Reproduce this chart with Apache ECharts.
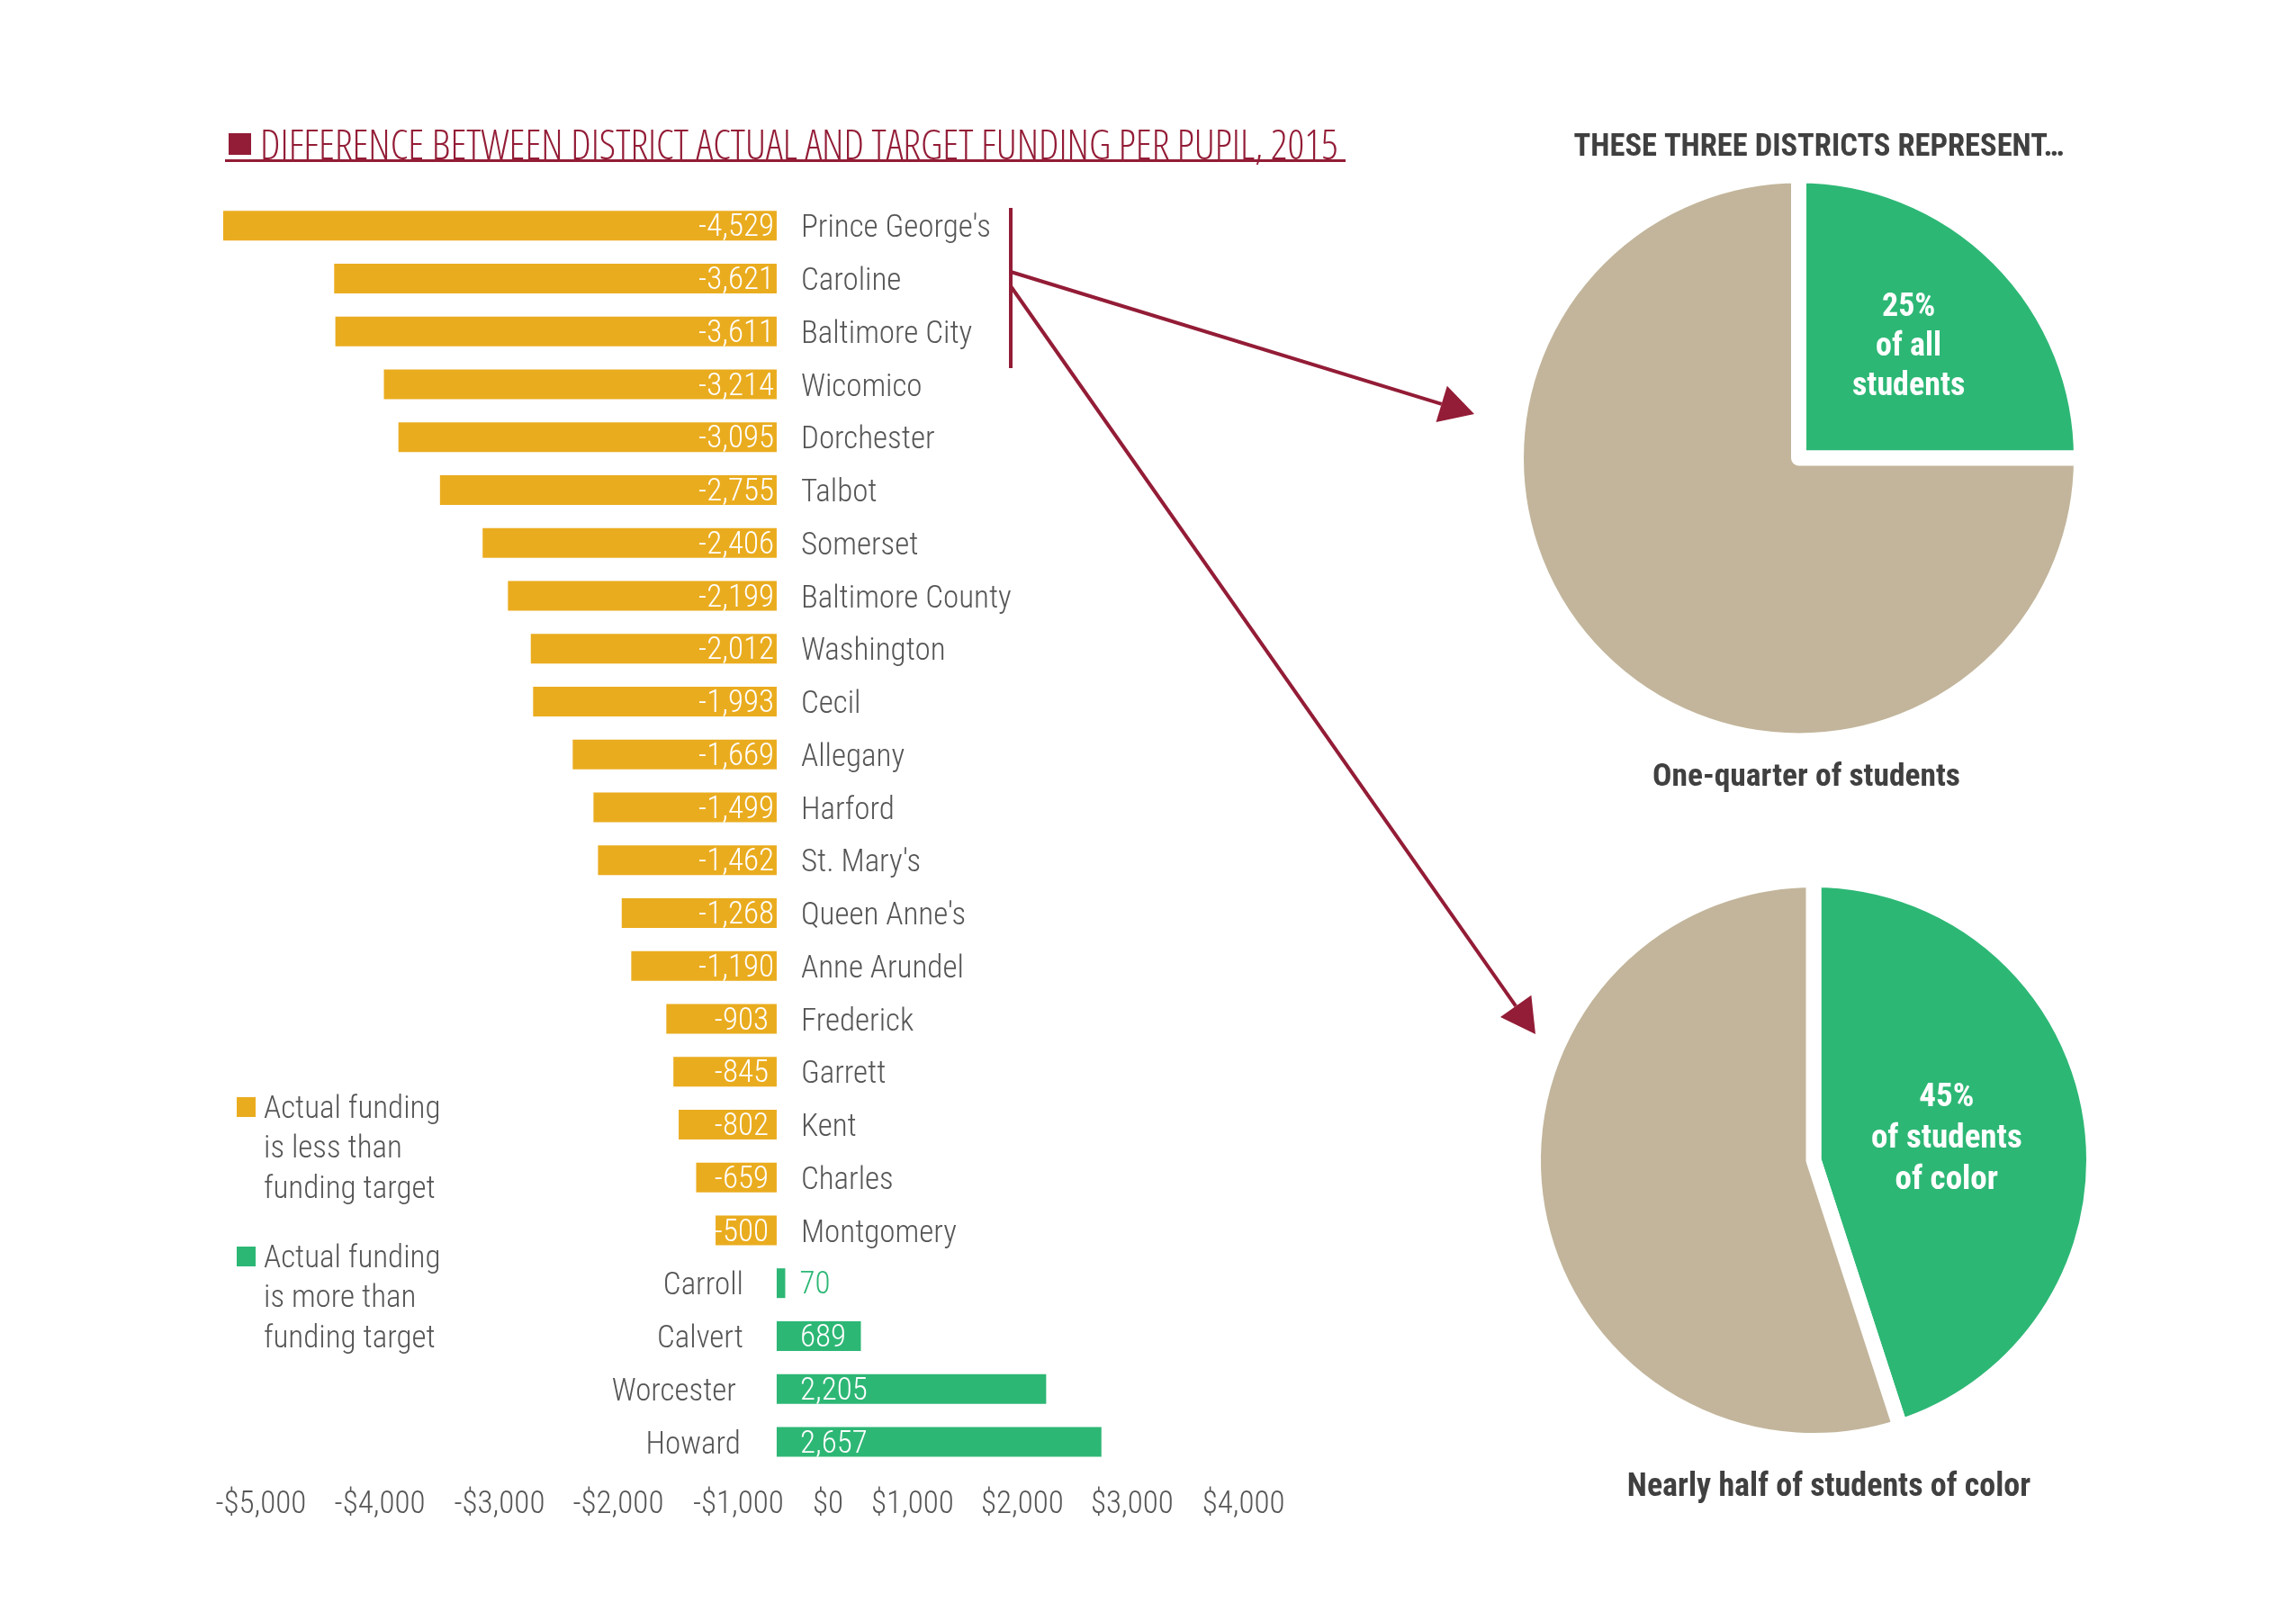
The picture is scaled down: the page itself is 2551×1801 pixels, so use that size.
<!DOCTYPE html>
<html>
<head>
<meta charset="utf-8">
<style>html,body{margin:0;background:#fff}#chart{width:2551px;height:1801px}</style>
<script src="https://cdn.jsdelivr.net/npm/echarts@6/dist/echarts.min.js"></script>
</head>
<body>
<div id="chart"></div>
<script>
var districts = ["Prince George's", 'Caroline', 'Baltimore City', 'Wicomico', 'Dorchester', 'Talbot', 'Somerset',
    'Baltimore County', 'Washington', 'Cecil', 'Allegany', 'Harford', "St. Mary's", "Queen Anne's", 'Anne Arundel',
    'Frederick', 'Garrett', 'Kent', 'Charles', 'Montgomery', 'Carroll', 'Calvert', 'Worcester', 'Howard'];
var fundingGap = [-4529, -3621, -3611, -3214, -3095, -2755, -2406, -2199, -2012, -1993, -1669, -1499, -1462, -1268,
    -1190, -903, -845, -802, -659, -500, 70, 689, 2205, 2657];
var tickLabels = ['-$5,000', '-$4,000', '-$3,000', '-$2,000', '-$1,000', '$0', '$1,000', '$2,000', '$3,000', '$4,000'];
// the printed labels do not sit on the bar scale in the original, these are the spots they sit at
var tickSpots = [-4220, -3247, -2268, -1296, -313, 420, 1112, 2010, 2909, 3820];
var legendLess = ['Actual funding', 'is less than', 'funding target'];
var legendMore = ['Actual funding', 'is more than', 'funding target'];
var shareStudents = [25, 75];
var shareOfColor = [45, 55];

var GOLD = '#EAAC1F', GREEN = '#2DB775', TAN = '#C2B59B', MAROON = '#931C36', GREY = '#555555', DARK = '#404040';
var COND = '"Roboto Condensed", Roboto, sans-serif';
var LIGHT = 300;

var leftNameGap = { Carroll: 37, Calvert: 37, Worcester: 45, Howard: 40 };

function money(v) { return v.toLocaleString('en-US'); }

var lessData = fundingGap.map(function (v) {
    if (v >= 0) return null;
    return { value: v, label: { distance: v <= -1000 ? 3 : 9 } };
});
var moreData = fundingGap.map(function (v) {
    if (v < 0) return null;
    if (v < 100) return { value: v, label: { position: 'right', distance: 16, color: GREEN } };
    return { value: v };
});
var nameData = fundingGap.map(function (v, i) {
    return {
        value: v,
        label: v < 0 ? { position: 'right', distance: 27 } : { position: 'left', distance: leftNameGap[districts[i]] }
    };
});

function arrow(x1, y1, x2, y2) {
    var a = Math.atan2(y2 - y1, x2 - x1), len = 38, half = 21;
    var bx = x2 - len * Math.cos(a), by = y2 - len * Math.sin(a);
    return [{
        type: 'line', shape: { x1: x1, y1: y1, x2: bx, y2: by }, style: { stroke: MAROON, lineWidth: 4 }
    }, {
        type: 'polygon',
        shape: { points: [[x2, y2], [bx + half * Math.sin(a), by - half * Math.cos(a)], [bx - half * Math.sin(a), by + half * Math.cos(a)]] },
        style: { fill: MAROON }
    }];
}

function legendBlock(lines, color, top) {
    var out = [{ type: 'rect', shape: { x: 263, y: top - 12, width: 21, height: 22 }, style: { fill: color } }];
    lines.forEach(function (line, i) {
        out.push({
            type: 'text', x: 293, y: top + 2 + i * 44.5,
            style: { text: line, fill: GREY, font: LIGHT + ' 35px ' + COND, textVerticalAlign: 'middle' }
        });
    });
    return out;
}

var graphics = [
    { type: 'rect', shape: { x: 254, y: 148, width: 25, height: 24 }, style: { fill: MAROON } },
    { type: 'rect', shape: { x: 250, y: 177, width: 1245, height: 3 }, style: { fill: MAROON } },
    { type: 'rect', shape: { x: 1121, y: 231, width: 4, height: 178 }, style: { fill: MAROON } }
].concat(arrow(1123, 302, 1638, 460), arrow(1123, 318, 1706, 1149),
    legendBlock(legendLess, GOLD, 1231), legendBlock(legendMore, GREEN, 1397));

function caption(text, x, y, size) {
    return {
        text: text, left: x, top: y, textAlign: 'center',
        textStyle: { fontFamily: COND, fontWeight: 'bold', fontSize: size, color: DARK }
    };
}

function pie(name, values, center, radius, labelText, fontSize, lineHeight, offset) {
    return {
        type: 'pie', name: name, center: center, radius: radius, silent: true, animation: false,
        label: { show: false },
        labelLine: { show: false },
        itemStyle: { borderColor: '#fff', borderWidth: 17, borderJoin: 'round' },
        data: [{
            value: values[0], itemStyle: { color: GREEN },
            label: {
                show: true, position: 'inside', formatter: labelText, offset: offset, color: '#fff',
                fontFamily: COND, fontWeight: 'bold', fontSize: fontSize, lineHeight: lineHeight, align: 'center'
            }
        }, {
            value: values[1], itemStyle: { color: TAN }
        }]
    };
}

var option = {
    backgroundColor: '#fff',
    animation: false,
    title: [{
        text: 'DIFFERENCE BETWEEN DISTRICT ACTUAL AND TARGET FUNDING PER PUPIL, 2015',
        left: 284, top: 136,
        // fontStyle goes straight into the canvas font string, this picks the condensed Open Sans face
        textStyle: { fontFamily: '"Open Sans"', fontStyle: 'condensed', fontWeight: LIGHT, fontSize: 46, color: MAROON }
    },
    caption('THESE THREE DISTRICTS REPRESENT…', 2016, 142, 34.5),
    caption('One-quarter of students', 2002, 841, 35.5),
    caption('Nearly half of students of color', 2027, 1630, 36)],
    grid: { left: 184, width: 1290, top: 221.3, height: 1410 },
    xAxis: {
        type: 'value', min: -5000, max: 4500,
        axisLine: { show: false }, axisTick: { show: false }, splitLine: { show: false },
        axisLabel: {
            customValues: tickSpots, margin: 23, color: GREY, fontFamily: COND, fontWeight: LIGHT, fontSize: 35,
            formatter: function (v) { return tickLabels[tickSpots.indexOf(v)]; }
        }
    },
    yAxis: {
        type: 'category', inverse: true, data: districts, show: false
    },
    series: [{
        type: 'bar', name: legendLess.join(' '), data: lessData, barWidth: 33, barGap: '-100%',
        itemStyle: { color: GOLD },
        label: {
            show: true, position: 'insideRight', offset: [0, 3], color: '#fff', fontFamily: COND, fontWeight: LIGHT, fontSize: 35,
            formatter: function (p) { return money(p.value); }
        }
    }, {
        type: 'bar', name: legendMore.join(' '), data: moreData, barWidth: 33, barGap: '-100%',
        itemStyle: { color: GREEN },
        label: {
            show: true, position: 'insideLeft', distance: 26, offset: [0, 3], color: '#fff', fontFamily: COND, fontWeight: LIGHT, fontSize: 35,
            formatter: function (p) { return money(p.value); }
        }
    }, {
        // no fill, only carries the district names next to the zero line
        type: 'bar', name: 'names', data: nameData, barWidth: 33, barGap: '-100%',
        itemStyle: { color: 'transparent' },
        label: { show: true, offset: [0, 4], color: GREY, fontFamily: COND, fontWeight: LIGHT, fontSize: 35, formatter: '{b}' }
    },
    pie('One-quarter of students', shareStudents, [1998.5, 509], 314, '25%\nof all\nstudents', 36, 44, [9, -10]),
    pie('Nearly half of students of color', shareOfColor, [2015, 1289], 311.5, '45%\nof students\nof color', 37, 46, [-9, 2])],
    graphic: graphics
};

var chart = echarts.init(document.getElementById('chart'), null, { renderer: 'canvas' });
chart.setOption(option);
</script>
</body>
</html>
